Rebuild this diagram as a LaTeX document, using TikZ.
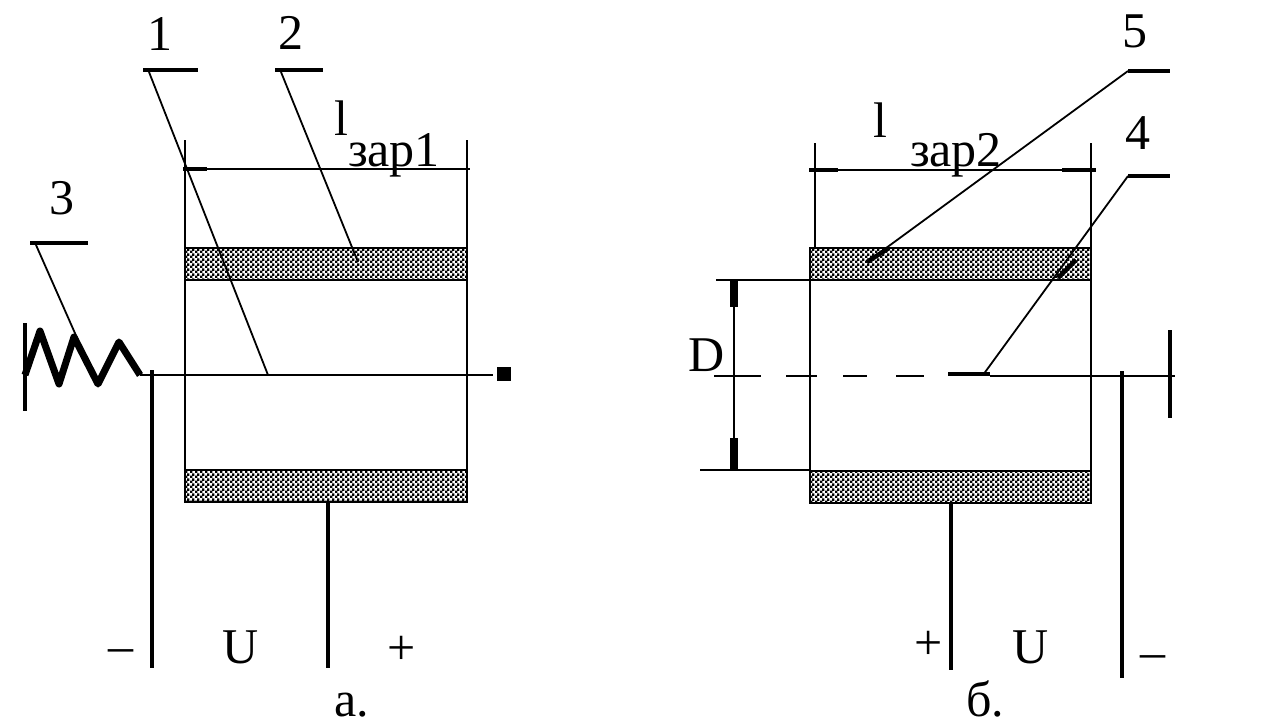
\documentclass[tikz,border=0pt]{standalone}
\usepackage{fontspec}
\setmainfont{Liberation Serif}
\usetikzlibrary{patterns}
\pgfdeclarepatternformonly{chequer}{\pgfpointorigin}{\pgfqpoint{5pt}{5pt}}{\pgfqpoint{5pt}{5pt}}{
    \pgfpathrectangle{\pgfpointorigin}{\pgfqpoint{2.8pt}{2.8pt}}
    \pgfpathrectangle{\pgfqpoint{2.5pt}{2.5pt}}{\pgfqpoint{2.8pt}{2.8pt}}
    \pgfusepath{fill}}
\tikzset{
    thinline/.style={draw=black,line width=2pt},
    leader/.style={draw=black,line width=1.8pt},
    heavyline/.style={draw=black,line width=4.5pt},
    shelf/.style={draw=black,line width=4.5pt},
    band/.style={draw=black,line width=2.5pt,pattern=chequer},
    lbl/.style={inner sep=0pt,font=\fontsize{50}{50}\selectfont}
}
\begin{document}
\begin{tikzpicture}[x=1pt,y=-1pt]
    \useasboundingbox (0,0) rectangle (1267,728);

    % left device
    \draw [band] (185,248) rectangle (467,280);
    \draw [band] (185,470) rectangle (467,502);
    \foreach \a/\b in {lt/185, rt/467}
        {\coordinate (\a a) at (\b,140);
        \coordinate (\a b) at (\b,502);
        \draw [thinline] (\a a) to (\a b);}
    \coordinate (ldl) at (183,169);
    \coordinate (ldm) at (207,169);
    \coordinate (ldr) at (470,169);
    \draw [thinline] (ldl) to (ldr);
    \draw [shelf] (ldl) to (ldm);

    % left axis and coil
    \coordinate (cath) at (140,375);
    \coordinate (axend) at (493,375);
    \draw [thinline] (cath) to (axend);
    \node (tipa) [fill=black,minimum size=14pt,inner sep=0pt] at (504,374){};
    \coordinate (coilend) at (25,375);
    \draw [draw=black,line width=7pt,line join=round] (cath) -- (119,342) -- (98,384) -- (74,337)
        -- (59,384) -- (40,331) -- (coilend);
    \coordinate (cla) at (25,323);
    \coordinate (clb) at (25,411);
    \draw [heavyline] (cla) to (clb);

    % left supply leads
    \foreach \a/\b/\c/\d in {na/152/370/668, nb/328/502/668}
        {\coordinate (\a a) at (\b,\c);
        \coordinate (\a b) at (\b,\d);
        \draw [heavyline] (\a a) to (\a b);}

    % left leaders
    \foreach \a/\b/\c/\d/\e in {p/143/198/268/375, q/275/323/358/262, r/30/88/78/340}
        {\coordinate (\a a) at (\b,70);
        \coordinate (\a b) at (\c,70);
        \coordinate (\a c) at (\d,\e);}
    \coordinate (ra) at (30,243);
    \coordinate (rb) at (88,243);
    \coordinate (pd) at (149,72);
    \coordinate (qd) at (281,72);
    \coordinate (rd) at (36,245);
    \foreach \a in {p,q,r}
        {\draw [shelf] (\a a) to (\a b);
        \draw [leader] (\a d) to (\a c);}

    % right device
    \draw [band] (810,248) rectangle (1091,280);
    \draw [band] (810,471) rectangle (1091,503);
    \coordinate (sl) at (815,143);
    \coordinate (sm) at (815,248);
    \coordinate (sn) at (810,280);
    \coordinate (so) at (810,503);
    \coordinate (sr) at (1091,143);
    \coordinate (ss) at (1091,503);
    \draw [thinline] (sl) to (sm);
    \draw [thinline] (sn) to (so);
    \draw [thinline] (sr) to (ss);
    \coordinate (dl) at (809,170);
    \coordinate (dm) at (838,170);
    \coordinate (dn) at (1062,170);
    \coordinate (dr) at (1096,170);
    \draw [thinline] (dl) to (dr);
    \draw [shelf] (dl) to (dm);
    \draw [shelf] (dn) to (dr);

    % dimension D
    \coordinate (ea) at (716,280);
    \coordinate (eb) at (700,470);
    \coordinate (ec) at (810,470);
    \coordinate (da) at (734,280);
    \coordinate (db) at (734,307);
    \coordinate (dc) at (734,438);
    \coordinate (dd) at (734,470);
    \draw [thinline] (ea) to (sn);
    \draw [thinline] (eb) to (ec);
    \draw [thinline] (da) to (dd);
    \draw [draw=black,line width=8pt] (da) to (db);
    \draw [draw=black,line width=8pt] (dc) to (dd);

    % right axis
    \foreach \a/\b/\c in {u/714/761, v/786/817, w/843/867, x/896/924}
        {\coordinate (\a a) at (\b,376);
        \coordinate (\a b) at (\c,376);
        \draw [thinline] (\a a) to (\a b);}
    \coordinate (ya) at (948,374);
    \coordinate (yb) at (990,374);
    \coordinate (yc) at (990,376);
    \coordinate (yd) at (1175,376);
    \draw [shelf] (ya) to (yb);
    \draw [thinline] (yc) to (yd);

    % right leads
    \foreach \a/\b/\c/\d in {ka/951/503/670, kb/1122/371/678, kc/1170/330/418}
        {\coordinate (\a a) at (\b,\c);
        \coordinate (\a b) at (\b,\d);
        \draw [heavyline] (\a a) to (\a b);}

    % right leaders
    \coordinate (fa) at (1128,71);
    \coordinate (fb) at (1170,71);
    \coordinate (fc) at (867,262);
    \coordinate (fd) at (889,248);
    \coordinate (ga) at (1128,176);
    \coordinate (gb) at (1170,176);
    \coordinate (gc) at (983,375);
    \coordinate (gd) at (1076,260);
    \coordinate (ge) at (1058,278);
    \draw [shelf] (fa) to (fb);
    \draw [shelf] (ga) to (gb);
    \draw [leader] (fa) to (fc);
    \draw [leader] (ga) to (gc);
    \draw [shelf] (fc) to (fd);
    \draw [shelf] (gd) to (ge);

    % labels
    \node (n1) [lbl] at (160,34){1};
    \node (n2) [lbl] at (291,33){2};
    \node (n3) [lbl] at (62,198){3};
    \node (n5) [lbl] at (1135,31){5};
    \node (n4) [lbl] at (1138,133){4};
    \node (la) [lbl] at (341,118){l};
    \node (za) [lbl] at (394,155){зар1};
    \node (lb) [lbl] at (880,120){l};
    \node (zb) [lbl] at (956,155){зар2};
    \node (dim) [lbl] at (707,355){D};
    \node (ma) [lbl] at (121,656){–};
    \node (ua) [lbl] at (241,647){U};
    \node (pa) [lbl] at (402,650){+};
    \node (ca) [lbl] at (352,705){а.};
    \node (pb) [lbl] at (929,645){+};
    \node (ub) [lbl] at (1031,647){U};
    \node (mb) [lbl] at (1153,662){–};
    \node (cb) [lbl] at (985,699){б.};
\end{tikzpicture}
\end{document}
